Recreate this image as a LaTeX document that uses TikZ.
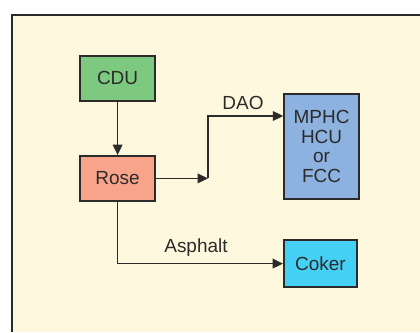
\documentclass[tikz,border=0pt]{standalone}
\usepackage{fontspec}
\setmainfont{Liberation Sans}
\usepackage{tikz}
\usetikzlibrary{arrows.meta, positioning, calc}
\definecolor{panelbg}{HTML}{FEF9DE}
\definecolor{ink}{HTML}{2B2B2B}
\definecolor{cdufill}{HTML}{7DC97F}
\definecolor{rosefill}{HTML}{F8A48A}
\definecolor{mphcfill}{HTML}{8DB2E0}
\definecolor{cokerfill}{HTML}{45D0F5}

\begin{document}
\begin{tikzpicture}[
  unit/.style={draw=ink, line width=1.2pt, text=ink, minimum width=1.875cm,
    minimum height=1.125cm, font=\fontsize{13.5}{14}\selectfont, align=center},
  flow/.style={draw=ink, line width=1.1pt, -{Triangle[length=2.6mm,width=2.4mm]}},
  stream/.style={text=ink, font=\fontsize{13.5}{14}\selectfont}
]
  \useasboundingbox (0,0) rectangle (10.5,-8.3);

  % Panel
  \fill[panelbg] (0.3,-0.375) rectangle (10.5,-8.3);
  \draw[ink, line width=0.9pt] (0.3,-8.3) |- (10.5,-0.375);

  % Units
  \node[unit, fill=cdufill] (cdu) at (2.94,-1.96) {CDU};
  \node[unit, fill=rosefill] (rose) at (2.94,-4.46) {Rose};
  \node[unit, fill=mphcfill, minimum height=2.625cm] (mphc) at (8.04,-3.66) {MPHC\\HCU\\or\\FCC};
  \node[unit, fill=cokerfill, minimum width=1.825cm, minimum height=1.175cm] (coker) at (8.01,-6.59) {Coker};

  % Connectors
  \coordinate (bend) at (5.2,-4.46);
  \coordinate (daoin) at ([yshift=0.76cm]mphc.west);
  \draw[flow] (cdu) -- (rose);
  \draw[flow] (rose.east) -- (bend);
  \draw[flow] (bend) |- (daoin);
  \draw[flow] (rose.south) |- (coker.west);

  % Stream labels
  \node[stream] (dao) at (6.075,-2.58) {DAO};
  \node[stream] (asphalt) at (4.9,-6.18) {Asphalt};
\end{tikzpicture}
\end{document}
